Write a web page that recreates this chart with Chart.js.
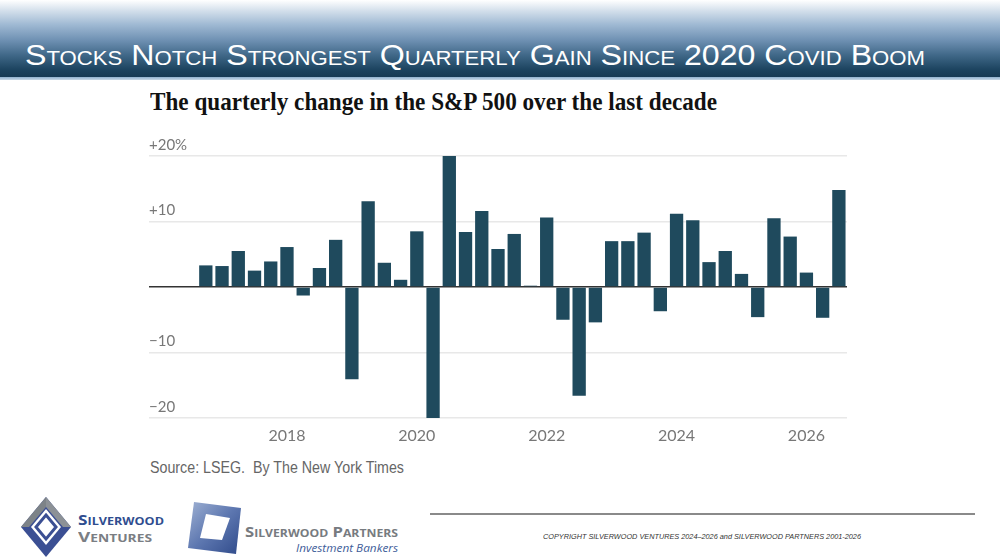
<!DOCTYPE html>
<html>
<head>
<meta charset="utf-8">
<script src="https://cdn.jsdelivr.net/npm/chart.js@4"></script>
<style>
  html,body{margin:0;padding:0;background:#fff;}
  body{width:1000px;height:560px;position:relative;overflow:hidden;font-family:"Liberation Sans",Arial,sans-serif;}
  #banner{position:absolute;left:0;top:0;width:1000px;height:77px;
    background:linear-gradient(to bottom,#ffffff 0%,#d3dfeb 14%,#9fb9d3 32%,#6f91b3 52%,#3f6787 72%,#1d4460 90%,#173a55 100%);}
  #bannerline{position:absolute;left:0;top:77px;width:1000px;height:3px;background:linear-gradient(to bottom,#8fb0cf,#c9d9e8);}
  .fit{position:absolute;white-space:nowrap;transform-origin:0 50%;}
  #title{left:25px;top:39px;color:#fff;font-family:"Liberation Sans Narrow","Liberation Sans",Arial,sans-serif;font-size:29px;font-variant:small-caps;line-height:32px;}
  #subtitle{left:150px;top:87px;color:#111;font-family:"Liberation Serif","DejaVu Serif",serif;font-weight:bold;font-size:26px;line-height:30px;}
  #source{left:150px;top:459px;color:#666;font-family:"Liberation Sans Narrow","Liberation Sans",sans-serif;font-size:16px;line-height:18px;}
  #chartbox{position:absolute;left:140px;top:130px;width:720px;height:320px;}
  #rule{position:absolute;left:430px;top:513px;width:545px;height:1.5px;background:#8a8a8a;}
  #copy{left:543px;top:532px;color:#333;font-family:"Liberation Sans Narrow","Liberation Sans",sans-serif;font-style:italic;font-size:8px;line-height:10px;}
  .logo-t{position:absolute;white-space:nowrap;font-family:"Open Sans","Liberation Sans",sans-serif;transform-origin:0 50%;}
</style>
</head>
<body>
<div id="banner"></div>
<div id="bannerline"></div>
<div id="title" class="fit" data-w="900">Stocks Notch Strongest Quarterly Gain Since 2020 Covid Boom</div>
<div id="subtitle" class="fit" data-w="567">The quarterly change in the S&amp;P 500 over the last decade</div>
<div id="chartbox"><canvas id="c"></canvas></div>
<div id="source" class="fit" data-w="254">Source: LSEG.&nbsp; By The New York Times</div>

<!-- Silverwood Ventures logo -->
<svg style="position:absolute;left:18px;top:494px" width="60" height="66" viewBox="0 0 60 66">
  <polygon points="28,3 53,33 28,63 3,33" fill="#3b4f93"/>
  <polygon points="28,3 53,33 45,33 28,13" fill="#8c9196"/>
  <polygon points="28,3 3,33 11,33 28,13" fill="#7d8388"/>
  <polygon points="28,15 43,33 28,51 13,33" fill="#ffffff"/>
  <polygon points="28,21 38,33 28,45 18,33" fill="#ffffff" stroke="#3b4f93" stroke-width="3"/>
</svg>
<div class="logo-t fit" data-w="86" style="left:78px;top:511px;font-size:15px;font-weight:bold;color:#2f4d8f;font-variant:small-caps;line-height:16px;">Silverwood</div>
<div class="logo-t fit" data-w="74" style="left:78px;top:528px;font-size:15px;font-weight:bold;color:#7a7e83;font-variant:small-caps;line-height:16px;">Ventures</div>

<!-- Silverwood Partners logo -->
<svg style="position:absolute;left:186px;top:500px" width="58" height="56" viewBox="0 0 58 56">
  <defs>
    <linearGradient id="gp" x1="0" y1="0" x2="1" y2="1">
      <stop offset="0" stop-color="#9fb1d3"/>
      <stop offset="0.5" stop-color="#5d77b0"/>
      <stop offset="1" stop-color="#2f4a8a"/>
    </linearGradient>
  </defs>
  <polygon points="8,2 55,8 50,54 2,48" fill="url(#gp)"/>
  <polygon points="20,14 44,18 36,40 14,38" fill="#ffffff"/>
</svg>
<div class="logo-t fit" data-w="153" style="left:245px;top:523px;font-size:15px;font-weight:bold;color:#777b80;font-variant:small-caps;line-height:16px;">Silverwood Partners</div>
<div class="logo-t fit" data-w="102" style="left:296px;top:541px;font-size:11px;font-style:italic;color:#3e5c99;line-height:13px;">Investment Bankers</div>

<div id="rule"></div>
<div id="copy" class="fit" data-w="318">COPYRIGHT SILVERWOOD VENTURES 2024–2026 and SILVERWOOD PARTNERS 2001-2026</div>

<script>
// ---- data ----
const quarters = [
  '2016 Q1','2016 Q2','2016 Q3','2016 Q4',
  '2017 Q1','2017 Q2','2017 Q3','2017 Q4',
  '2018 Q1','2018 Q2','2018 Q3','2018 Q4',
  '2019 Q1','2019 Q2','2019 Q3','2019 Q4',
  '2020 Q1','2020 Q2','2020 Q3','2020 Q4',
  '2021 Q1','2021 Q2','2021 Q3','2021 Q4',
  '2022 Q1','2022 Q2','2022 Q3','2022 Q4',
  '2023 Q1','2023 Q2','2023 Q3','2023 Q4',
  '2024 Q1','2024 Q2','2024 Q3','2024 Q4',
  '2025 Q1','2025 Q2','2025 Q3','2025 Q4',
  '2026 Q1','2026 Q2','2026 Q3'
];
const quarterlyChange = [
  null, null, null, 3.3,
  3.2, 5.5, 2.5, 3.9,
  6.1, -1.3, 2.9, 7.2,
  -14.1, 13.1, 3.7, 1.1,
  8.5, -20.0, 20.0, 8.4,
  11.6, 5.8, 8.1, 0.2,
  10.6, -5.0, -16.6, -5.4,
  7.0, 7.0, 8.3, -3.7,
  11.2, 10.2, 3.8, 5.5,
  2.0, -4.6, 10.5, 7.7,
  2.2, -4.7, 14.8
];
const yTicks = [-20, -10, 0, 10, 20];
const yTickLabels = ['\u221220', '\u221210', '', '+10', '+20%'];
const yearLabelQuarters = ['2018 Q1','2020 Q1','2022 Q1','2024 Q1','2026 Q1'];

// ---- fit text widths ----
document.querySelectorAll('.fit').forEach(el => {
  const w = parseFloat(el.dataset.w);
  const cur = el.getBoundingClientRect().width;
  if (w && cur) el.style.transform = 'scaleX(' + (w / cur) + ')';
});

// ---- chart ----
const ctx = document.getElementById('c');
new Chart(ctx, {
  type: 'bar',
  data: {
    labels: quarters,
    datasets: [{
      data: quarterlyChange,
      backgroundColor: '#1f4a5d',
      borderWidth: 0,
      barPercentage: 0.82,
      categoryPercentage: 1.0
    }]
  },
  options: {
    responsive: true,
    maintainAspectRatio: false,
    animation: false,
    layout: { padding: { left: 9, right: 13, top: 26, bottom: 2 } },
    plugins: { legend: { display: false }, tooltip: { enabled: false } },
    scales: {
      x: {
        grid: { display: false, drawTicks: false },
        border: { display: false },
        afterFit: s => { s.height = 30; },
        ticks: {
          autoSkip: false,
          maxRotation: 0,
          padding: 8,
          color: '#777',
          font: { family: 'Lato, "Open Sans", sans-serif', size: 16 },
          callback: function (v, i) {
            const q = quarters[i];
            return yearLabelQuarters.includes(q) ? q.slice(0, 4) : '';
          }
        }
      },
      y: {
        min: -20, max: 20,
        afterFit: s => { s.width = 0; },
        afterBuildTicks: s => { s.ticks = yTicks.map(v => ({ value: v })); },
        border: { display: false },
        grid: {
          drawTicks: false,
          color: c => (c.tick && c.tick.value === 0) ? '#333333' : '#e8e8e8',
          lineWidth: c => (c.tick && c.tick.value === 0) ? 1.5 : 1.5
        },
        ticks: {
          mirror: true,
          padding: 0,
          labelOffset: -11,
          color: '#777',
          font: { family: 'Lato, "Open Sans", sans-serif', size: 15 },
          callback: v => yTickLabels[yTicks.indexOf(v)]
        }
      }
    }
  }
});
</script>
</body>
</html>
